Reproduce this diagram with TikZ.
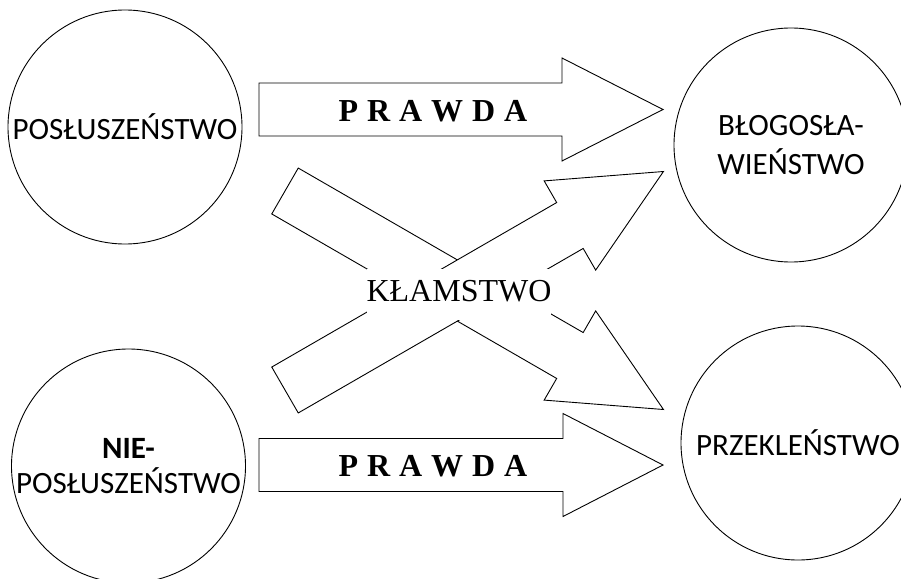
\documentclass[tikz,border=0pt]{standalone}
\usepackage{fontspec}
\setmainfont{Liberation Serif}
\newfontfamily\circlefont{Carlito}
\newfontfamily\truthfont[WordSpace=1.12]{Liberation Serif}
\usetikzlibrary{positioning}

\tikzset{
  pics/blockarrow/.style args={#1/#2}{code={
    \draw[arrowbody] (0,-26.5) -- (#1,-26.5) -- (#1,-51.5) -- (#1+#2,0)
      -- (#1,51.5) -- (#1,26.5) -- (0,26.5) -- cycle;
  }}
}

\begin{document}
\begin{tikzpicture}[x=1pt,y=-1pt,
      arrowbody/.style={draw=black,fill=white,line width=0.9pt},
      state/.style={draw=black,circle,minimum size=234pt,inner sep=0pt,line width=0.9pt},
      statetext/.style={align=center,inner sep=0pt,font=\circlefont\fontsize{31}{39}\selectfont},
      truth/.style={inner sep=0pt,font=\truthfont\bfseries\fontsize{32}{38}\selectfont},
      lie/.style={fill=white,inner sep=0pt,minimum width=178pt,minimum height=51pt,text depth=7pt,font=\fontsize{32}{38}\selectfont}]
  \useasboundingbox (0,0) rectangle (901,578);
  % the four states
  \node (obey) [state,label={[statetext]center:POSŁUSZEŃSTWO}] at (125,127) {};
  \node (blessing) [state,label={[statetext]center:BŁOGOSŁA-\\WIEŃSTWO}] at (791,145) {};
  \node (disobey) [state,label={[statetext,font=\circlefont\fontsize{31}{35}\selectfont]center:{\bfseries NIE-}\\POSŁUSZEŃSTWO}] at (128.5,466) {};
  \node (curse) [state,label={[statetext]center:PRZEKLEŃSTWO}] at (798,443) {};
  % truth
  \pic at (259,109.5) {blockarrow=303/101};
  \pic at (259,465) {blockarrow=304/100};
  \node (truthtop) [truth] at (433,111.5) {P R A W D A};
  \node (truthbottom) [truth] at (433,466.5) {P R A W D A};
  % lie, crossing over
  \pic[rotate=-30] at (285,191) {blockarrow=329/108};
  \pic[rotate=30] at (285,390) {blockarrow=329/108};
  \node (lie) [lie] at (459,294.5) {KŁAMSTWO};
\end{tikzpicture}
\end{document}
